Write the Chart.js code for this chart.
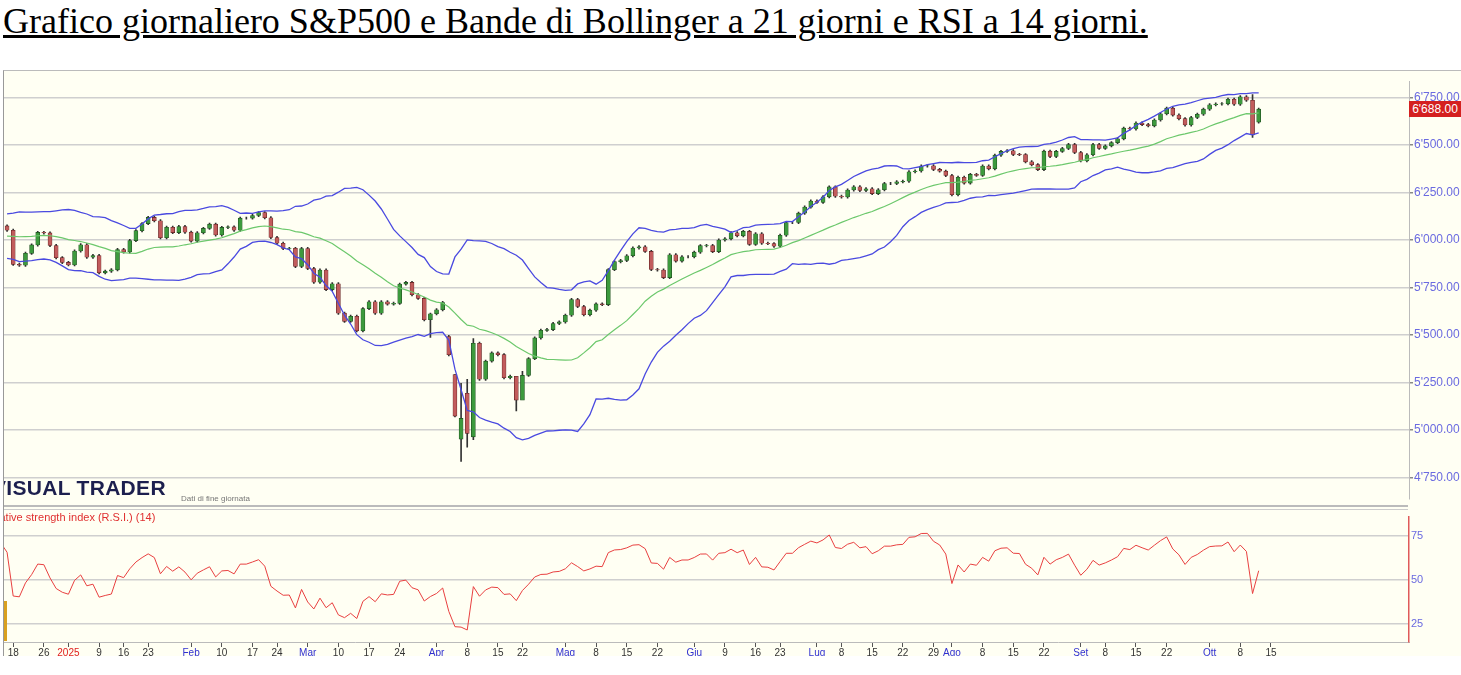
<!DOCTYPE html>
<html><head><meta charset="utf-8">
<script src="https://cdn.jsdelivr.net/npm/chart.js@4.4.1/dist/chart.umd.min.js"></script>
<style>
body{margin:0;background:#fff;width:1461px;height:675px;overflow:hidden;position:relative;font-family:Arial,sans-serif}
#title{position:absolute;left:3px;top:0px;font-family:"Liberation Serif",serif;font-size:36px;text-decoration:underline;color:#000;white-space:nowrap}
#frame{position:absolute;left:3px;top:70px;width:1458px;height:585px;background:#fffff3;border-top:1px solid #bbb;border-left:1px solid #999;overflow:hidden}
.abs{position:absolute}
</style></head><body>
<div id="title">Grafico giornaliero S&amp;P500 e Bande di Bollinger a 21 giorni e RSI a 14 giorni.</div>
<div id="frame">
  <div class="abs" style="left:0;top:2px;width:1458px;height:434px"><canvas id="price"></canvas></div>
  <div class="abs" style="left:-1px;top:434px;width:1405px;height:2px;background:#bbb"></div>
  <div class="abs" style="left:-1px;top:438px;width:1405px;height:1px;background:#ccc"></div>
  <div class="abs" style="left:0;top:437px;width:1458px;height:148px"><canvas id="rsi"></canvas></div>
  <div class="abs" style="left:-12px;top:405px;font-size:21px;font-weight:bold;color:#1c1f4e;letter-spacing:0.3px">VISUAL TRADER</div>
  <div class="abs" style="left:177px;top:423px;font-size:8px;color:#777">Dati di fine giornata</div>
  <div class="abs" style="left:-21px;top:440px;font-size:11px;color:#e03030">Relative strength index (R.S.I.) (14)</div>
  <div class="abs" style="left:0;top:530px;width:3px;height:40px;background:#d9a020"></div>
  <div class="abs" style="left:1405px;top:30px;width:52px;height:16px;background:#d42020;color:#fff;font-size:12px;line-height:16px;text-align:center">6'688.00</div>
</div>
<script>
// trading days, per month: "yyyy-mm: days"
const tradingDays = [
  "2024-11: 18 19 20 21 22 25 26 27 29",
  "2024-12: 2 3 4 5 6 9 10 11 12 13 16 17 18 19 20 23 24 26 27 30 31",
  "2025-01: 2 3 6 7 8 10 13 14 15 16 17 21 22 23 24 27 28 29 30 31",
  "2025-02: 3 4 5 6 7 10 11 12 13 14 18 19 20 21 24 25 26 27 28",
  "2025-03: 3 4 5 6 7 10 11 12 13 14 17 18 19 20 21 24 25 26 27 28 31",
  "2025-04: 1 2 3 4 7 8 9 10 11 14 15 16 17 21 22 23 24 25 28 29 30",
  "2025-05: 1 2 5 6 7 8 9 12 13 14 15 16 19 20 21 22 23 27 28 29 30",
  "2025-06: 2 3 4 5 6 9 10 11 12 13 16 17 18 20 23 24 25 26 27 30",
  "2025-07: 1 2 3 7 8 9 10 11 14 15 16 17 18 21 22 23 24 25 28 29 30 31",
  "2025-08: 1 4 5 6 7 8 11 12 13 14 15 18 19 20 21 22 25 26 27 28 29",
  "2025-09: 2 3 4 5 8 9 10 11 12 15 16 17 18 19 22 23 24 25 26 29 30",
  "2025-10: 1 2 3 6 7 8 9 10 13 14 15 16 17 20 21 22 23 24 27 28 29 30 31",
  "2025-11: 3 4 5 6 7 10 11 12 13 14"
];
const closes = [
  5893,5917,5917,5949,5969,5987,6021,5998,6032,
  6047,6050,6086,6075,6090,6053,6034,6084,6051,6051,6074,6051,5872,5867,5930,5974,6040,6037,5971,5907,5882,
  5869,5942,5975,5909,5918,5827,5836,5843,5950,5937,5997,6049,6086,6119,6101,6012,6067,6039,6071,6041,
  5994,6038,6061,6083,6026,6066,6069,6051,6115,6115,6129,6144,6117,6013,5983,5955,5956,5861,5955,
  5850,5778,5842,5739,5770,5615,5572,5599,5522,5639,5675,5615,5675,5663,5667,5768,5777,5712,5693,5581,5612,
  5633,5671,5397,5074,5062,4983,5457,5268,5363,5406,5397,5276,5283,5158,5288,5376,5485,5525,5529,5561,5569,
  5604,5687,5650,5607,5631,5664,5660,5844,5886,5892,5917,5958,5964,5940,5845,5842,5802,5922,5889,5912,5912,
  5936,5970,5971,5939,6000,6006,6038,6022,6045,5977,6033,5983,5981,5967,6025,6092,6092,6141,6173,6205,
  6198,6227,6279,6230,6226,6263,6280,6260,6269,6244,6264,6297,6297,6306,6309,6359,6363,6389,6390,6371,6362,6339,
  6238,6330,6299,6345,6340,6389,6374,6446,6466,6469,6450,6449,6411,6396,6370,6467,6439,6466,6481,6502,6460,
  6416,6448,6502,6482,6495,6512,6532,6588,6584,6615,6607,6600,6631,6664,6693,6657,6638,6605,6644,6661,6688,
  6711,6715,6716,6740,6714,6753,6735,6553,6688
];
// opens that gapped away from the previous close
const openGapDates = ["2025-04-03","2025-04-04","2025-04-07","2025-04-08","2025-04-09","2025-10-13"];
const openGapValues = [5492,5292,4953,5194,4965,6620];
// days with long shadows: [low, high]
const wickDates = ["2025-04-04","2025-04-07","2025-04-08","2025-04-09","2025-04-21","2025-03-31","2025-10-10","2025-04-22"];
const wickValues = [[5069,5292],[4835,5246],[4910,5267],[4950,5481],[5101,5232],[5488,5616],[6540,6764],[5200,5309]];
// tick labels on the date axis
const tickDates = ["2024-12-18","2024-12-26","2025-01-02","2025-01-10","2025-01-16","2025-01-23","2025-02-03","2025-02-10","2025-02-18","2025-02-24",
  "2025-03-03","2025-03-10","2025-03-17","2025-03-24","2025-04-01","2025-04-08","2025-04-15","2025-04-22","2025-05-01","2025-05-08","2025-05-15","2025-05-22",
  "2025-06-02","2025-06-09","2025-06-16","2025-06-23","2025-07-01","2025-07-08","2025-07-15","2025-07-22","2025-07-29","2025-08-01","2025-08-08","2025-08-15","2025-08-22",
  "2025-09-02","2025-09-08","2025-09-15","2025-09-22","2025-10-01","2025-10-08","2025-10-15"];
const tickTexts = ["18","26","2025","9","16","23","Feb","10","17","24","Mar","10","17","24","Apr","8","15","22","Mag","8","15","22",
  "Giu","9","16","23","Lug","8","15","22","29","Ago","8","15","22","Set","8","15","22","Ott","8","15"];
const priceTicks = [4750,5000,5250,5500,5750,6000,6250,6500,6750];
const rsiTicks = [25,50,75];

const labels = [];
tradingDays.forEach(row => {
  const [ym, ds] = row.split(": ");
  ds.split(" ").forEach(d => labels.push(ym + "-" + d.padStart(2, "0")));
});
const n = closes.length;
const opens = closes.map((c, i) => {
  const g = openGapDates.indexOf(labels[i]);
  return g >= 0 ? openGapValues[g] : (i ? closes[i - 1] : c);
});
const bodies = closes.map((c, i) => [opens[i], c]);
const wicks = closes.map((c, i) => {
  const w = wickDates.indexOf(labels[i]);
  const lo = Math.min(opens[i], c), hi = Math.max(opens[i], c);
  return w >= 0 ? wickValues[w] : [lo - 6, hi + 6];
});
const up = closes.map((c, i) => c >= opens[i]);

// Bollinger 21, 2 sd
const mid = [], upper = [], lower = [];
for (let i = 0; i < n; i++) {
  if (i < 20) { mid.push(null); upper.push(null); lower.push(null); continue; }
  const s = closes.slice(i - 20, i + 1);
  const m = s.reduce((a, b) => a + b, 0) / 21;
  const sd = Math.sqrt(s.reduce((a, b) => a + (b - m) * (b - m), 0) / 21);
  mid.push(m); upper.push(m + 2 * sd); lower.push(m - 2 * sd);
}
// RSI 14 Wilder
const rsi = [null];
let ag = 0, al = 0;
for (let i = 1; i < n; i++) {
  const d = closes[i] - closes[i - 1];
  const g = Math.max(d, 0), l = Math.max(-d, 0);
  if (i <= 14) { ag += g / 14; al += l / 14; rsi.push(i < 14 ? null : 100 - 100 / (1 + ag / al)); continue; }
  ag = (ag * 13 + g) / 14; al = (al * 13 + l) / 14;
  rsi.push(100 - 100 / (1 + ag / al));
}

const fmt = v => Math.floor(v / 1000) + "'" + String(v % 1000).padStart(3, "0") + ".00";
const startIdx = labels.indexOf("2024-12-17");
const tickIdx = tickDates.map(d => labels.indexOf(d));

new Chart(document.getElementById("price"), {
  data: {
    labels: labels,
    datasets: [
      { type: "line", data: upper, borderColor: "#4a4ae0", borderWidth: 1.3, pointRadius: 0, order: 0 },
      { type: "line", data: lower, borderColor: "#4a4ae0", borderWidth: 1.3, pointRadius: 0, order: 0 },
      { type: "line", data: mid, borderColor: "#6cc86c", borderWidth: 1.2, pointRadius: 0, order: 0 },
      { type: "bar", data: bodies, grouped: false, barThickness: 4,
        backgroundColor: up.map(u => u ? "#3d9a3d" : "#c25c5c"),
        borderColor: up.map(u => u ? "#1d4a1d" : "#5a1c1c"), borderWidth: 0.6, borderSkipped: false, order: 1 },
      { type: "bar", data: wicks, grouped: false, barThickness: 1, backgroundColor: "#333", order: 2 }
    ]
  },
  options: {
    responsive: true, maintainAspectRatio: false, animation: false,
    layout: { padding: 0 },
    plugins: { legend: { display: false }, tooltip: { enabled: false } },
    scales: {
      x: { min: startIdx, offset: true, display: false },
      y: {
        position: "right", min: 4639, max: 6835,
        afterBuildTicks: s => { s.ticks = priceTicks.map(v => ({ value: v })); },
        afterFit: s => { s.width = 53; },
        ticks: { color: "#6a6ae0", font: { family: "Arial", size: 12 }, padding: 1, callback: v => fmt(v) },
        grid: { color: "#cfcfcf", lineWidth: 1.5, tickLength: 4, tickColor: "#888" },
        border: { color: "#bbb" }
      }
    }
  }
});

new Chart(document.getElementById("rsi"), {
  type: "line",
  data: {
    labels: labels,
    datasets: [{ data: rsi, borderColor: "#e84040", borderWidth: 1, pointRadius: 0, tension: 0 }]
  },
  options: {
    responsive: true, maintainAspectRatio: false, animation: false,
    layout: { padding: 0 },
    plugins: { legend: { display: false }, tooltip: { enabled: false } },
    scales: {
      x: {
        min: startIdx, offset: true,
        afterBuildTicks: s => { s.ticks = tickIdx.filter(i => i >= 0).map(i => ({ value: i })); },
        afterFit: s => { s.height = 14; },
        ticks: {
          autoSkip: false, maxRotation: 0, padding: 0, font: { family: "Arial", size: 10 },
          callback: v => tickTexts[tickIdx.indexOf(v)],
          color: c => { const t = tickTexts[tickIdx.indexOf(c.tick.value)]; return t === "2025" ? "#e02020" : (/[A-Za-z]/.test(t) ? "#3030d0" : "#333"); }
        },
        grid: { drawOnChartArea: false, tickLength: 5, tickColor: "#555" },
        border: { color: "#bbb" }
      },
      y: {
        position: "right", min: 14.5, max: 86,
        afterBuildTicks: s => { s.ticks = rsiTicks.map(v => ({ value: v })); },
        afterFit: s => { s.width = 53; },
        ticks: { color: "#6a6ae0", font: { family: "Arial", size: 11 }, padding: 2 },
        grid: { color: "#cfcfcf", lineWidth: 1.5, drawTicks: false },
        border: { color: "#e05a5a", width: 1.5 }
      }
    }
  }
});
</script>
</body></html>
